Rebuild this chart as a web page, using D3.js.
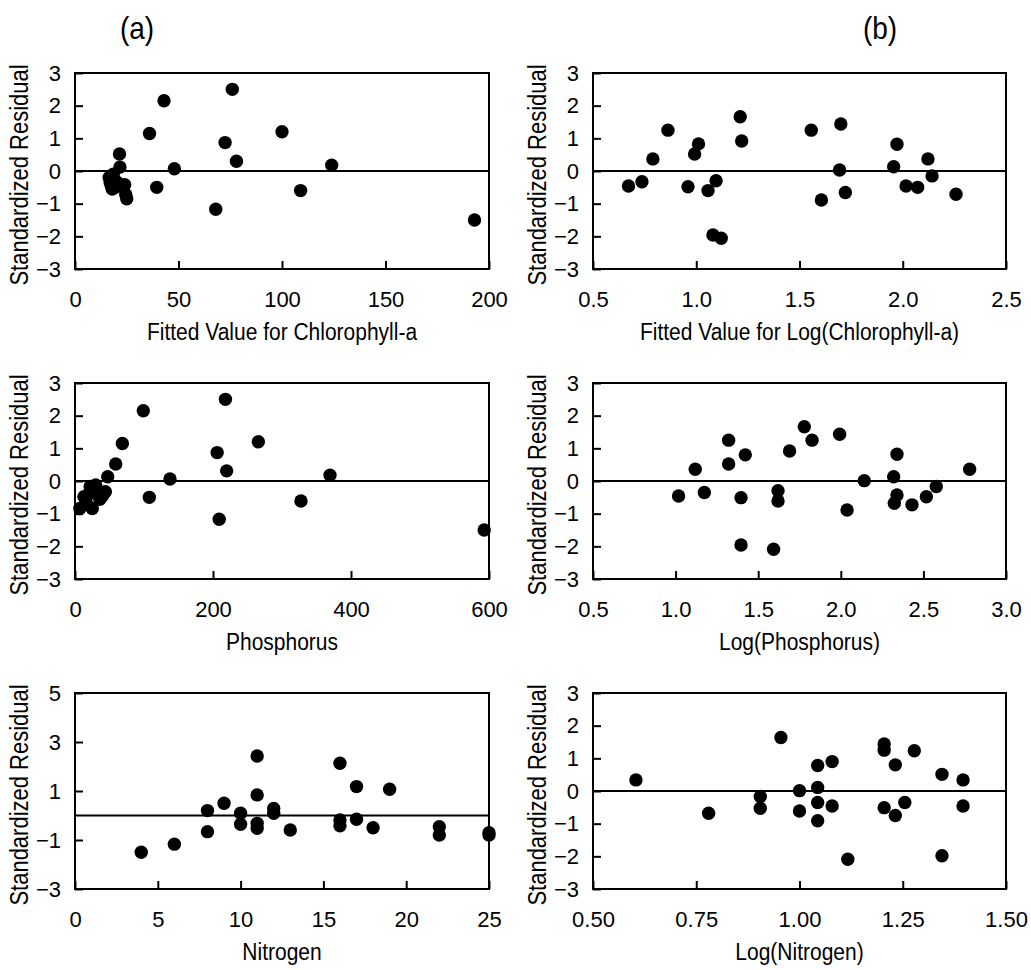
<!DOCTYPE html>
<html>
<head>
<meta charset="utf-8">
<script src="https://cdn.jsdelivr.net/npm/d3@7"></script>
<style>
  body { margin: 0; background: #fff; }
  text { font-family: "Liberation Sans", Arial, sans-serif; fill: #000; }
</style>
</head>
<body>
<div id="chart"></div>
<script>
const width = 1031;
const height = 970;

// residuals vs fitted chlorophyll-a (a) and log chlorophyll-a (b)
const chlFitted = [43, 76, 36, 72.5, 100, 78, 124, 48, 39.5, 109, 68, 193, 21.5, 21.7,
  16.5, 17, 17.5, 18, 18.5, 19, 19.5, 20.5, 24, 24.5, 25];
const chlResid = [2.15, 2.5, 1.15, 0.87, 1.2, 0.3, 0.18, 0.07, -0.5, -0.6, -1.17, -1.5, 0.52, 0.12,
  -0.2, -0.35, -0.45, -0.55, -0.1, -0.3, -0.5, -0.35, -0.42, -0.72, -0.85];

const logChlFitted = [0.672, 0.737, 0.79, 0.863, 0.96, 0.992, 1.011, 1.057, 1.096, 1.081, 1.121, 1.213, 1.22,
  1.557, 1.606, 1.70, 1.694, 1.722, 1.956, 1.972, 2.016, 2.072, 2.122, 2.142, 2.258];
const logChlResid = [-0.46, -0.33, 0.37, 1.25, -0.48, 0.52, 0.83, -0.6, -0.3, -1.96, -2.06, 1.66, 0.92,
  1.25, -0.89, 1.44, 0.03, -0.66, 0.13, 0.82, -0.46, -0.5, 0.37, -0.15, -0.71];

// residuals vs phosphorus
const phosphorus = [99, 218, 68.6, 59, 47.4, 206, 265.7, 219.8, 369.6, 137.7, 107.7, 327.5, 209, 593,
  7, 13, 17, 20, 22, 25, 28, 30, 36, 40, 44];
const phosResid = [2.15, 2.5, 1.15, 0.52, 0.13, 0.87, 1.2, 0.31, 0.18, 0.06, -0.5, -0.61, -1.17, -1.5,
  -0.84, -0.48, -0.7, -0.4, -0.17, -0.84, -0.3, -0.12, -0.56, -0.45, -0.33];

const logPhos = [1.018, 1.119, 1.174, 1.321, 1.321, 1.422, 1.396, 1.396, 1.62, 1.62, 1.593, 1.69, 1.779,
  1.826, 1.993, 2.038, 2.142, 2.32, 2.34, 2.34, 2.324, 2.431, 2.518, 2.578, 2.78];
const logPhosResid = [-0.46, 0.36, -0.35, 1.25, 0.52, 0.8, -0.51, -1.96, -0.3, -0.61, -2.09, 0.92, 1.66,
  1.25, 1.43, -0.89, 0.01, 0.13, 0.82, -0.43, -0.68, -0.73, -0.48, -0.17, 0.36];

// residuals vs nitrogen
const nitrogen = [4, 6, 8, 8, 9, 10, 10, 11, 11, 11, 11, 12, 12, 13, 16, 16, 16, 17, 17, 18, 19, 22, 22, 25, 25];
const nitResid = [-1.5, -1.17, 0.2, -0.66, 0.5, 0.09, -0.36, 2.43, 0.84, -0.32, -0.52, 0.29, 0.09, -0.59,
  2.13, -0.18, -0.42, 1.18, -0.15, -0.5, 1.07, -0.46, -0.8, -0.7, -0.8];

const logNitrogen = [0.604, 0.78, 0.905, 0.905, 0.955, 1.0, 1.0, 1.044, 1.044, 1.044, 1.044, 1.079, 1.079,
  1.117, 1.205, 1.205, 1.205, 1.232, 1.232, 1.255, 1.278, 1.345, 1.345, 1.396, 1.396];
const logNitResid = [0.34, -0.68, -0.17, -0.53, 1.64, 0.01, -0.61, 0.78, 0.11, -0.35, -0.91, 0.9, -0.46,
  -2.09, 1.44, 1.25, -0.51, 0.8, -0.75, -0.35, 1.23, 0.51, -1.98, 0.34, -0.46];

// tick values
const chlTicks = [0, 50, 100, 150, 200];
const logChlTicks = [0.5, 1.0, 1.5, 2.0, 2.5];
const phosTicks = [0, 200, 400, 600];
const logPhosTicks = [0.5, 1.0, 1.5, 2.0, 2.5, 3.0];
const nitTicks = [0, 5, 10, 15, 20, 25];
const logNitTicks = [0.5, 0.75, 1.0, 1.25, 1.5];
const residTicks = [-3, -2, -1, 0, 1, 2, 3];
const nitResidTicks = [-3, -1, 1, 3, 5];

const plotW = [414, 413];
const plotH = 196;
const colX = [75, 593];
const rowY = [73, 383, 693];
const textStretch = 1.15; // source font is taller than Arial

const panels = [
  { col: 0, row: 0, xs: chlFitted, ys: chlResid, xTicks: chlTicks, yTicks: residTicks, fmt: d3.format("d"), title: "Fitted Value for Chlorophyll-a" },
  { col: 1, row: 0, xs: logChlFitted, ys: logChlResid, xTicks: logChlTicks, yTicks: residTicks, fmt: d3.format(".1f"), title: "Fitted Value for Log(Chlorophyll-a)" },
  { col: 0, row: 1, xs: phosphorus, ys: phosResid, xTicks: phosTicks, yTicks: residTicks, fmt: d3.format("d"), title: "Phosphorus" },
  { col: 1, row: 1, xs: logPhos, ys: logPhosResid, xTicks: logPhosTicks, yTicks: residTicks, fmt: d3.format(".1f"), title: "Log(Phosphorus)" },
  { col: 0, row: 2, xs: nitrogen, ys: nitResid, xTicks: nitTicks, yTicks: nitResidTicks, fmt: d3.format("d"), title: "Nitrogen" },
  { col: 1, row: 2, xs: logNitrogen, ys: logNitResid, xTicks: logNitTicks, yTicks: residTicks, fmt: d3.format(".2f"), title: "Log(Nitrogen)" }
];

const svg = d3.select("#chart")
  .append("svg")
  .attr("width", width)
  .attr("height", height);

// column labels
svg.append("text").attr("transform", `translate(137,39) scale(1,${textStretch})`)
  .attr("text-anchor", "middle").attr("font-size", 28).text("(a)");
svg.append("text").attr("transform", `translate(880,39) scale(1,${textStretch})`)
  .attr("text-anchor", "middle").attr("font-size", 28).text("(b)");

function drawPanel(p) {
  const w = plotW[p.col];
  const g = svg.append("g")
    .attr("transform", `translate(${colX[p.col]},${rowY[p.row]})`);

  const xScale = d3.scaleLinear()
    .domain(d3.extent(p.xTicks))
    .range([0, w]);
  const yScale = d3.scaleLinear()
    .domain(d3.extent(p.yTicks))
    .range([plotH, 0]);

  // inward ticks, no domain line (box is drawn separately)
  const xAxis = g.append("g")
    .attr("transform", `translate(0,${plotH})`)
    .call(d3.axisBottom(xScale).tickValues(p.xTicks).tickFormat(p.fmt).tickSize(-8).tickPadding(22));
  const yAxis = g.append("g")
    .call(d3.axisLeft(yScale).tickValues(p.yTicks).tickFormat(d3.format("d")).tickSize(-8).tickPadding(14));

  [xAxis, yAxis].forEach(a => {
    a.select(".domain").remove();
    a.attr("font-size", 22).attr("font-family", '"Liberation Sans", Arial, sans-serif');
    a.selectAll("line").attr("stroke", "#000").attr("stroke-width", 2);
  });

  g.append("rect")
    .attr("width", w)
    .attr("height", plotH)
    .attr("fill", "none")
    .attr("stroke", "#000")
    .attr("stroke-width", 2);

  g.append("line")
    .attr("x1", 0).attr("x2", w)
    .attr("y1", yScale(0)).attr("y2", yScale(0))
    .attr("stroke", "#000")
    .attr("stroke-width", 2);

  g.selectAll("circle")
    .data(p.xs.map((x, i) => [x, p.ys[i]]))
    .enter()
    .append("circle")
    .attr("cx", d => xScale(d[0]))
    .attr("cy", d => yScale(d[1]))
    .attr("r", 6.7)
    .attr("fill", "#000");

  g.append("text")
    .attr("transform", `translate(${w / 2},${plotH + 71}) scale(1,${textStretch})`)
    .attr("text-anchor", "middle")
    .attr("font-size", 21)
    .text(p.title);

  g.append("text")
    .attr("transform", `translate(-47,${plotH / 2 + 4}) rotate(-90) scale(1,${textStretch})`)
    .attr("text-anchor", "middle")
    .attr("font-size", 22)
    .text("Standardized Residual");
}

panels.forEach(drawPanel);
</script>
</body>
</html>
